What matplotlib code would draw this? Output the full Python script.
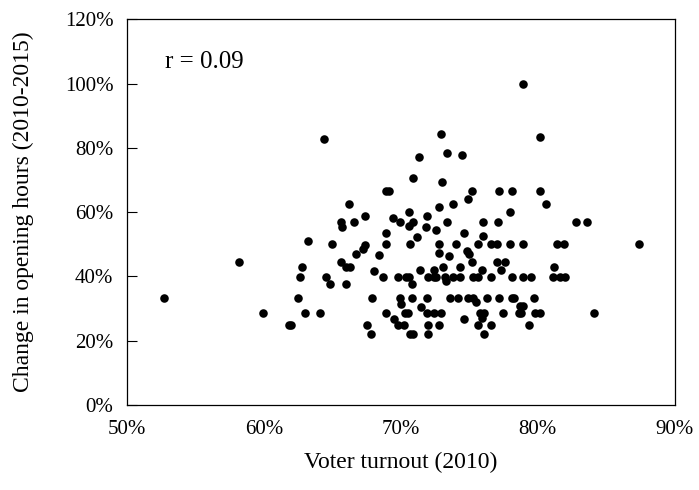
import matplotlib

matplotlib.use("Agg")
import matplotlib.pyplot as plt
from matplotlib.ticker import FuncFormatter

# voter turnout 2010 (%) and change in opening hours 2010-2015 (%)
turnout = [
    52.7, 58.2, 59.9, 61.8, 62.0, 62.5, 62.6, 62.8, 63.0, 63.2, 64.1, 64.4,
    64.5, 64.8, 65.0, 65.6, 65.6, 65.7, 66.0, 66.3, 66.0, 66.2, 66.6, 66.7,
    67.2, 67.4, 67.4, 67.5, 67.9, 67.8, 68.0, 68.4, 68.7, 68.9, 69.1, 68.9,
    68.9, 68.9, 69.4, 69.5, 69.8, 69.8, 69.9, 69.9, 70.0, 70.2, 70.3, 70.4,
    70.5, 70.6, 70.6, 70.6, 70.7, 70.7, 70.8, 70.8, 70.9, 70.9, 70.9, 71.2,
    71.3, 71.4, 71.5, 71.8, 71.9, 71.9, 71.9, 72.0, 72.0, 72.0, 72.4, 72.4,
    72.4, 72.6, 72.6, 72.8, 72.8, 72.8, 72.8, 72.9, 72.9, 73.0, 73.1, 73.2,
    73.3, 73.4, 73.4, 73.5, 73.6, 73.8, 73.8, 74.0, 74.2, 74.3, 74.3, 74.5,
    74.6, 74.6, 74.8, 74.9, 74.9, 75.0, 75.2, 75.2, 75.3, 75.3, 75.5, 75.6,
    75.6, 75.6, 75.8, 75.9, 75.9, 76.0, 76.0, 76.1, 76.1, 76.3, 76.6, 76.6,
    76.6, 77.0, 77.0, 77.1, 77.2, 77.2, 77.3, 77.5, 77.6, 78.0, 78.0, 78.1,
    78.1, 78.1, 78.3, 78.6, 78.8, 78.7, 78.9, 78.9, 78.9, 78.9, 79.4, 79.5,
    79.7, 79.8, 80.2, 80.2, 80.2, 80.6, 81.1, 81.2, 81.4, 81.6, 81.9, 82.0,
    82.8, 83.6, 84.1, 87.4,
]
hours_change = [
    33.3, 44.4, 28.5, 24.9, 24.9, 33.3, 39.9, 42.8, 28.5, 51.0, 28.5, 82.8,
    39.9, 37.5, 50.0, 44.4, 57.0, 55.5, 42.8, 42.8, 37.5, 62.4, 57.0, 47.0,
    48.5, 49.8, 58.8, 24.9, 33.3, 22.1, 41.7, 46.7, 39.9, 66.7, 66.7, 53.4,
    50.0, 28.5, 58.3, 26.8, 39.9, 24.9, 57.0, 33.3, 31.3, 24.9, 28.5, 39.9,
    28.5, 39.9, 60.0, 55.7, 50.0, 22.1, 37.5, 33.3, 70.7, 57.0, 22.1, 52.4,
    77.1, 42.0, 30.6, 55.5, 58.9, 33.3, 28.5, 39.9, 24.9, 22.1, 39.9, 42.0,
    28.5, 39.9, 54.4, 61.7, 50.1, 47.2, 24.9, 84.3, 28.5, 69.5, 42.8, 39.9,
    38.7, 78.3, 57.0, 46.4, 33.3, 62.5, 39.9, 50.0, 33.3, 39.9, 42.8, 77.8,
    53.4, 26.7, 48.0, 64.1, 33.3, 47.0, 66.7, 44.4, 33.3, 39.9, 32.1, 50.0,
    39.9, 24.9, 28.5, 42.0, 27.0, 57.0, 52.7, 28.5, 22.1, 33.3, 50.0, 39.9,
    24.9, 50.0, 44.4, 57.0, 66.7, 33.3, 42.0, 28.5, 44.4, 60.0, 50.0, 66.7,
    39.9, 33.3, 33.3, 28.5, 28.5, 30.8, 30.8, 100.0, 50.0, 39.9, 24.9, 39.9,
    33.3, 28.5, 28.5, 83.4, 66.6, 62.4, 39.9, 43.0, 50.0, 39.9, 50.0, 39.9,
    57.0, 57.0, 28.5, 50.0,
]

plt.rcParams["font.family"] = ["Liberation Serif", "DejaVu Serif"]

fig = plt.figure(figsize=(6.99, 4.90), dpi=100)
ax = fig.add_axes([0.182, 0.1735, 0.783, 0.787])

ax.scatter(turnout, hours_change, s=38, color="black", linewidths=0, zorder=3)

ax.set_xlim(50, 90)
ax.set_ylim(0, 120)
ax.set_xticks(range(50, 91, 10))
ax.set_yticks(range(0, 121, 20))
pct = FuncFormatter(lambda v, _: f"{v:.0f}%")
ax.xaxis.set_major_formatter(pct)
ax.yaxis.set_major_formatter(pct)
ax.tick_params(axis="y", direction="in", length=7, width=0.8, labelsize=15, pad=10)
ax.tick_params(axis="x", length=0, labelsize=15, pad=11)
for sp in ax.spines.values():
    sp.set_linewidth(0.9)

ax.set_xlabel("Voter turnout (2010)", fontsize=17, labelpad=9)
ax.set_ylabel("Change in opening hours (2010-2015)", fontsize=17, labelpad=22)
ax.text(0.069, 0.889, "r = 0.09", transform=ax.transAxes, fontsize=18,
        va="center", ha="left")

fig.savefig("out.png", dpi=100)
